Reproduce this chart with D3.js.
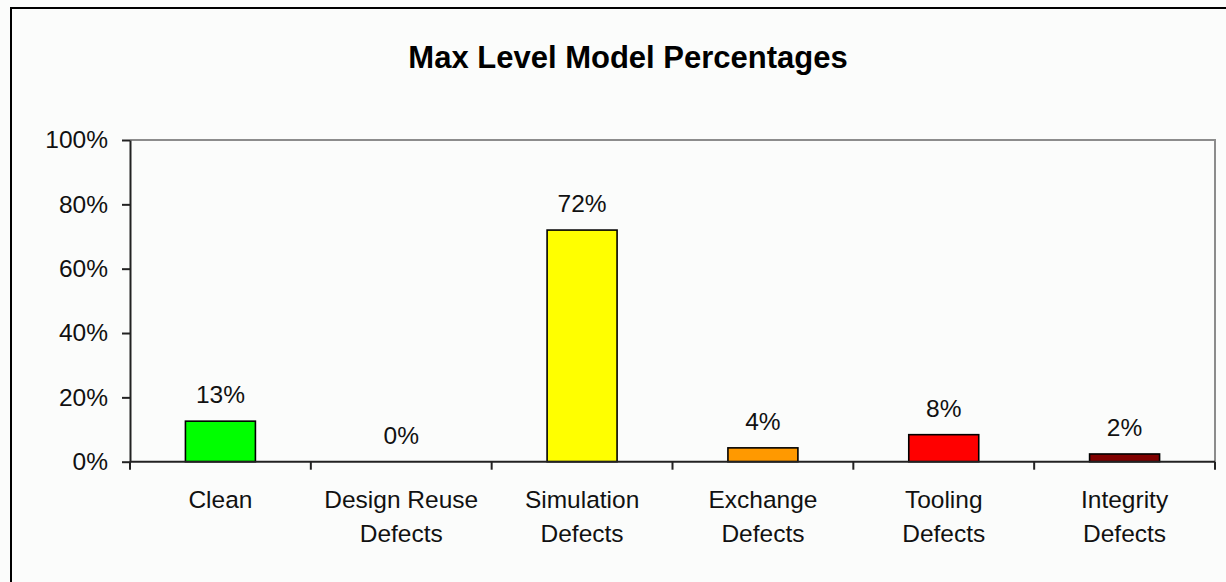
<!DOCTYPE html>
<html><head><meta charset="utf-8">
<script src="https://cdn.jsdelivr.net/npm/d3@7"></script>
<style>html,body{margin:0;padding:0;background:#fbfcfb;overflow:hidden}svg{display:block}</style>
</head><body>
<script>
const categories = [["Clean"],["Design Reuse","Defects"],["Simulation","Defects"],["Exchange","Defects"],["Tooling","Defects"],["Integrity","Defects"]];
const values = [12.6, 0, 72.0, 4.3, 8.4, 2.4];
const colors = ["#00ff00","#ffffff","#ffff00","#ff9900","#ff0000","#800000"];
const yTicks = [0,20,40,60,80,100];
const title = "Max Level Model Percentages";

(function(){
const W = 1226, H = 582;
const svg = d3.select("body").append("svg").attr("width", W).attr("height", H);
svg.append("rect").attr("x",0).attr("y",0).attr("width",W).attr("height",H).attr("fill","#fbfcfb");
svg.append("rect").attr("x",11).attr("y",8).attr("width",W+20).attr("height",H+20)
  .attr("fill","none").attr("stroke","#000").attr("stroke-width",2);

const pLeft = 130, pRight = 1215, pTop = 140, pBottom = 461.7;
const x = d3.scaleBand().domain(d3.range(categories.length)).range([pLeft,pRight]).paddingInner(0).paddingOuter(0);
const y = d3.scaleLinear().domain([0,100]).range([pBottom, pTop]);

svg.append("path").attr("d", `M${pLeft},${pTop}H${pRight}V${pBottom}`).attr("fill","none").attr("stroke","#8c8c8c").attr("stroke-width",2);

svg.append("text").attr("x", 628).attr("y", 68).attr("text-anchor","middle")
  .attr("font-family","Liberation Sans, Arial, sans-serif").attr("font-weight","bold")
  .attr("font-size",31).attr("fill","#000").text(title);

const bw = x.bandwidth()*0.387;
svg.selectAll("rect.bar").data(values).enter().append("rect").attr("class","bar")
  .attr("x",(d,i)=>x(i)+x.bandwidth()/2-bw/2).attr("y",d=>y(d))
  .attr("width",bw).attr("height",d=>y(0)-y(d))
  .attr("fill",(d,i)=>colors[i]).attr("stroke",d=>d>0?"#000":"none").attr("stroke-width",1.6);

svg.selectAll("text.val").data(values).enter().append("text").attr("class","val")
  .attr("x",(d,i)=>x(i)+x.bandwidth()/2).attr("y",d=>y(d)-18)
  .attr("text-anchor","middle").attr("font-family","Liberation Sans, Arial, sans-serif")
  .attr("font-size",24.5).attr("fill","#111").text(d=>Math.round(d)+"%");

const yAxis = d3.axisLeft(y).tickValues(yTicks).tickFormat(d=>d+"%").tickSizeInner(8).tickSizeOuter(0).tickPadding(14);
const gy = svg.append("g").attr("transform",`translate(${pLeft},0)`).call(yAxis);
gy.select(".domain").attr("stroke","#222").attr("stroke-width",2);
gy.selectAll(".tick line").attr("stroke","#222").attr("stroke-width",2);
gy.selectAll(".tick text").attr("font-family","Liberation Sans, Arial, sans-serif").attr("font-size",24.5).attr("fill","#111");

const xEdges = d3.range(categories.length+1).map(i=>pLeft + i*x.step());
const gx = svg.append("g");
gx.append("line").attr("x1",pLeft).attr("x2",pRight).attr("y1",pBottom).attr("y2",pBottom).attr("stroke","#222").attr("stroke-width",2);
gx.selectAll("line.tk").data(xEdges).enter().append("line").attr("class","tk")
  .attr("x1",d=>d).attr("x2",d=>d).attr("y1",pBottom).attr("y2",pBottom+8).attr("stroke","#222").attr("stroke-width",2);
categories.forEach((lines,i)=>{
  const t = svg.append("text").attr("text-anchor","middle").attr("font-family","Liberation Sans, Arial, sans-serif")
    .attr("font-size",24.5).attr("fill","#111");
  lines.forEach((ln,j)=>{
    t.append("tspan").attr("x",x(i)+x.bandwidth()/2).attr("y",508+j*34).text(ln);
  });
});
})();
</script>
</body></html>
